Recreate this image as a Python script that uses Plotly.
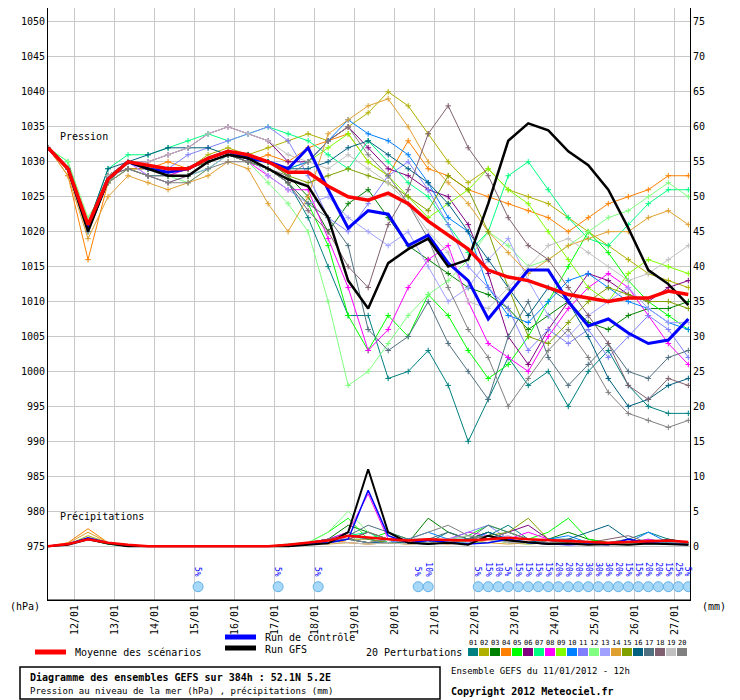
import plotly.graph_objects as go

hours = list(range(0, 385, 12))
tick_hours = [16 + 24 * k for k in range(16)]
tick_labels = ["12/01","13/01","14/01","15/01","16/01","17/01","18/01","19/01","20/01","21/01","22/01","23/01","24/01","25/01","26/01","27/01"]

mean_p = [1032,1029,1021,1027.5,1030,1029.5,1029,1029,1030.5,1031.5,1031,1030,1028.5,1028.5,1026.5,1025,1024.5,1025.5,1024,1021.5,1019.5,1017.5,1014.5,1013.5,1013,1012,1011,1010.5,1010,1010.5,1010.5,1011.5,1011]
ctrl_p = [1032,1029,1020.5,1027.5,1030,1029,1028.5,1029,1030.5,1031.5,1030.5,1030,1029,1032,1026,1020.5,1023,1022.5,1018,1019.5,1015.5,1013,1007.5,1011,1014.5,1014.5,1010,1006.5,1007.5,1005.5,1004,1004.5,1007.5]
gfs_p = [1032,1029,1020,1027.5,1030,1029,1028,1028,1030,1031,1030.5,1029,1027.5,1026.5,1022,1013,1009,1015.5,1017.5,1019,1015,1016,1024,1033,1035.5,1034.5,1031.5,1029.5,1026,1020.5,1014.5,1012.5,1009.5]

pert_colors = ["#008080","#b0b000","#008000","#ff8000","#00ff00","#800080","#00ff80","#ff00ff","#80ff00","#0080ff",
               "#8080ff","#80ff80","#a0a0ff","#e0a030","#80a000","#006080","#507080","#806070","#c0c0c0","#808080"]
pert_p = [
 [1032,1029,1020,1027,1030,1029,1028,1028,1030,1031,1030,1029,1027,1022,1015,1008,1008,999,1000,1003,998,990,996,1002,998,1000,995,1000,1003,998,995,994,994],
 [1032,1029,1021,1028,1030,1029,1028,1029,1031,1032,1031,1032,1033,1034,1033,1035,1037,1040,1038,1034,1030,1027,1029,1026,1025,1024,1022,1020,1018,1016,1014,1013,1012],
 [1032,1029,1021,1027,1029,1029,1028,1028,1030,1031,1031,1030,1028,1025,1020,1024,1026,1022,1018,1016,1014,1012,1011,1009,1006,1008,1010,1007,1006,1008,1009,1009,1010],
 [1032,1028,1016,1027,1029,1029,1030,1029,1030,1031,1030,1031,1030,1032,1033,1034,1030,1028,1033,1029,1028,1026,1025,1024,1023,1022,1020,1022,1024,1025,1026,1028,1028],
 [1032,1029,1021,1028,1030,1029,1028,1028,1029,1031,1030,1029,1027,1024,1018,1008,1003,1008,1005,1011,1008,1003,999,1001,1005,1010,1015,1020,1017,1013,1010,1008,1006],
 [1032,1029,1021,1028,1030,1030,1031,1032,1034,1035,1034,1033,1030,1030,1033,1035,1032,1029,1028,1026,1025,1021,1014,1005,1001,1006,1010,1014,1013,1011,1010,1012,1013],
 [1032,1030,1021,1029,1031,1031,1032,1033,1034,1033,1034,1035,1034,1033,1031,1029,1033,1030,1027,1025,1021,1017,1020,1028,1030,1026,1022,1019,1018,1021,1024,1026,1026],
 [1032,1029,1021,1028,1030,1028,1028,1029,1030,1031,1030,1028,1026,1026,1019,1012,1003,1006,1012,1016,1018,1010,1004,1002,1000,1005,1009,1012,1014,1012,1008,1004,1001],
 [1032,1029,1021,1028,1030,1029,1028,1028,1030,1031,1031,1030,1029,1030,1032,1034,1030,1028,1025,1022,1024,1026,1029,1026,1024,1020,1016,1012,1010,1014,1016,1015,1014],
 [1032,1029,1021,1028,1030,1029,1029,1029,1030,1031,1031,1030,1029,1030,1033,1036,1034,1033,1031,1027,1022,1020,1012,1008,1007,1010,1013,1014,1012,1010,1009,1007,1006],
 [1032,1029,1021,1028,1030,1029,1029,1031,1032,1033,1034,1035,1033,1028,1022,1020,1024,1028,1030,1026,1021,1015,1012,1009,1003,1006,1004,1006,1002,1005,1008,1006,1002],
 [1032,1030,1022,1027,1029,1028,1028,1027,1029,1031,1030,1027,1024,1020,1010,998,1000,1004,1008,1011,1013,1016,1020,1018,1015,1016,1018,1020,1022,1023,1025,1027,1025],
 [1032,1029,1021,1028,1030,1028,1027,1028,1029,1031,1031,1028,1026,1024,1025,1022,1020,1018,1020,1015,1010,1012,1016,1019,1013,1008,1005,1008,1010,1012,1009,1007,1007],
 [1032,1028,1019,1025,1028,1027,1026,1027,1028,1030,1029,1024,1020,1025,1034,1036,1038,1039,1035,1030,1027,1024,1020,1017,1014,1016,1018,1019,1020,1020,1022,1023,1021],
 [1032,1029,1021,1028,1030,1029,1029,1029,1030,1031,1031,1030,1028,1027,1028,1029,1028,1027,1025,1023,1028,1026,1020,1012,1005,1004,1007,1010,1012,1011,1010,1010,1009],
 [1032,1029,1021,1029,1030,1031,1032,1032,1032,1031,1031,1030,1029,1029,1030,1032,1033,1031,1029,1027,1024,1020,1016,1012,1008,1012,1010,1005,999,995,996,998,999],
 [1032,1029,1021,1028,1029,1028,1028,1028,1030,1031,1030,1029,1027,1024,1022,1018,1006,1003,1005,1010,1004,1000,996,1005,1010,1002,998,1001,1004,1000,999,1002,1003],
 [1032,1029,1021,1028,1029,1028,1027,1028,1030,1031,1030,1029,1027,1023,1020,1015,1012,1021,1026,1034,1038,1032,1028,1022,1018,1016,1012,1008,1004,998,996,999,998],
 [1032,1029,1021,1028,1030,1030,1031,1032,1034,1035,1034,1033,1031,1030,1029,1031,1029,1027,1024,1020,1017,1010,1009,1012,1015,1018,1019,1017,1015,1013,1014,1016,1018],
 [1032,1029,1020,1027,1029,1028,1027,1027,1029,1030,1030,1029,1028,1030,1033,1035,1031,1028,1024,1019,1012,1006,1002,995,999,1003,1006,1002,997,994,993,992,993],
]

mean_mm = [0,0.3,1,0.5,0.2,0,0,0,0,0,0,0,0.2,0.5,0.8,1.5,1.2,1,0.8,1,0.9,0.8,1,1.2,1,0.9,0.8,0.6,0.5,0.6,0.7,0.8,0.6]
ctrl_mm = [0,0.3,1.2,0.5,0,0,0,0,0,0,0,0,0,0.3,0.5,1,8,1.5,0.5,0.8,0.5,0.3,0.5,1,0.5,0.3,0.2,0.3,0.2,1,0.5,0.3,0.2]
gfs_mm = [0,0.2,1,0.4,0,0,0,0,0,0,0,0,0,0.2,0.4,2,11,2,0.5,0.3,0.5,0.2,1.5,0.8,0.5,0.3,0.4,0.2,0.3,0.2,0.4,0.3,0.2]
pert_mm = [
 [0,0.3,1,0.5,0,0,0,0,0,0,0,0,0,0.5,1,2,1,0.5,1,0.5,2,1,1.5,3,1,0.5,1,0.5,0.3,1,2,1,0.5],
 [0,0.2,1.5,0.5,0,0,0,0,0,0,0,0,0.2,0.5,0.5,1,0.5,1,0.5,0.3,0.5,1,2,1,0.5,1,0.5,0.3,0.5,0.3,0.5,0.3,0.2],
 [0,0.3,1,0.3,0,0,0,0,0,0,0,0,0,0.3,1,3,2,1,0.5,4,2,1,2,1,0.5,1,2,1,0.5,0.3,0.5,1,0.5],
 [0,0.5,2.5,0.5,0.2,0,0,0,0,0,0,0,0.3,0.5,1,0.5,0.3,0.5,0.3,0.5,0.3,0.5,1,0.5,0.3,0.5,0.3,0.5,0.3,0.5,0.3,0.5,0.3],
 [0,0.3,1,0.5,0,0,0,0,0,0,0,0,0,0.5,2,4,1,2,1,0.5,1,1.5,3,2,1,2,4,1,0.5,0.5,1,0.5,0.3],
 [0,0.3,1,0.5,0,0,0,0,0,0,0,0,0.2,0.3,0.5,1,2,1,0.5,0.5,1,0.5,1,2,3,1,0.5,0.3,0.5,0.3,0.5,0.3,0.5],
 [0,0.3,1,0.3,0,0,0,0,0,0,0,0,0.2,0.5,1,1.5,2,0.5,0.5,0.3,0.5,0.5,1,0.5,0.5,0.3,0.5,0.3,0.5,0.5,0.3,0.3,0.5],
 [0,0.3,1,0.5,0,0,0,0,0,0,0,0,0.2,0.5,1,2,7.5,1,1,0.5,1,2,1.5,1,2,1,0.5,0.5,0.3,0.5,1,0.5,0.3],
 [0,0.3,1,0.5,0,0,0,0,0,0,0,0,0,0.3,0.5,1,0.5,1,0.5,0.5,1,0.5,0.5,1,0.5,1,0.5,0.3,0.5,0.3,0.5,0.3,0.2],
 [0,0.3,1,0.5,0,0,0,0,0,0,0,0,0,0.3,0.5,1.5,1,0.5,1,2,1,0.5,2,1,0.5,1,1.5,0.5,0.3,0.5,2,0.5,0.3],
 [0,0.3,1,0.5,0,0,0,0,0,0,0,0,0.3,0.5,1,1,0.5,0.5,1,0.5,1,2,3,1,0.5,0.5,1,0.5,0.5,0.3,0.5,0.3,0.5],
 [0,0.3,1,0.5,0,0,0,0,0,0,0,0,0.3,0.5,2,5,2,1,0.5,0.5,1,0.5,1,0.5,0.3,0.5,0.3,0.5,0.3,0.5,0.3,0.5,0.3],
 [0,0.3,1,0.5,0,0,0,0,0,0,0,0,0.2,0.5,0.5,1,0.5,1,0.5,0.5,0.3,0.5,1,1.5,0.5,1,0.5,0.3,0.5,0.3,0.3,0.5,0.3],
 [0,0.4,2,0.5,0.2,0,0,0,0,0,0,0,0.2,0.5,0.3,0.5,0.3,0.5,0.3,0.5,0.3,1,0.5,0.3,0.5,0.3,0.5,0.3,0.5,0.3,0.5,0.3,0.2],
 [0,0.3,1,0.5,0,0,0,0,0,0,0,0,0,0.3,0.5,1,1,0.5,0.5,1,0.5,1,1.5,2,4,1,0.5,0.5,0.5,0.3,0.5,0.3,0.5],
 [0,0.3,1,0.5,0,0,0,0,0,0,0,0,0,0.3,0.5,1,0.5,0.5,0.5,0.5,1,1,2,1,0.5,1,1,2,3,1,0.5,1,0.5],
 [0,0.3,1,0.5,0,0,0,0,0,0,0,0,0.2,0.5,1,1.5,3,2,1,1,2,1,3,2,1,0.5,1,0.5,0.5,1,0.5,0.5,0.3],
 [0,0.3,1,0.5,0,0,0,0,0,0,0,0,0.2,0.5,1,1,2,1,0.5,0.3,0.5,1,1.5,0.5,0.5,0.3,0.5,0.5,1,1.5,0.5,0.3,0.5],
 [0,0.3,1,0.5,0,0,0,0,0,0,0,0,0,0.3,0.5,0.5,0.3,0.5,0.3,0.5,1,1.5,1,0.5,0.5,0.3,0.5,0.3,0.5,0.3,0.5,0.3,0.2],
 [0,0.3,1,0.5,0,0,0,0,0,0,0,0,0,0.3,0.5,1,0.5,1,1,2,3,1.5,1,2,1,0.5,0.5,0.3,0.5,1,0.5,0.3,0.5],
]

snow_hours = [90, 138, 162, 222, 228] + [258 + 6 * k for k in range(22)]
snow_pct = ["5%", "5%", "5%", "5%", "10%", "5%", "15%", "10%", "5%", "15%", "15%", "15%", "15%", "20%", "20%", "20%",
            "30%", "30%", "30%", "20%", "15%", "15%", "20%", "20%", "15%", "25%", "5%"]

BASE = 975
FONT = "DejaVu Sans Mono"
fig = go.Figure()

for i in range(20):
    fig.add_trace(go.Scatter(x=hours, y=[BASE + v for v in pert_mm[i]], mode="lines",
                             line=dict(color=pert_colors[i], width=1), showlegend=False))
for i in range(20):
    fig.add_trace(go.Scatter(x=hours, y=pert_p[i], mode="lines+markers",
                             line=dict(color=pert_colors[i], width=1),
                             marker=dict(symbol="cross-thin", size=4, line=dict(color=pert_colors[i], width=1)),
                             showlegend=False))
for vals, col, w in [(ctrl_mm, "#0000ff", 1.5), (gfs_mm, "#000000", 2), (mean_mm, "#ff0000", 2.5)]:
    fig.add_trace(go.Scatter(x=hours, y=[BASE + v for v in vals], mode="lines",
                             line=dict(color=col, width=w), showlegend=False))
for vals, col, w in [(ctrl_p, "#0000ff", 3), (gfs_p, "#000000", 2.5), (mean_p, "#ff0000", 3.5)]:
    fig.add_trace(go.Scatter(x=hours, y=vals, mode="lines", line=dict(color=col, width=w), showlegend=False))

fig.add_trace(go.Scatter(x=snow_hours, y=[969.2] * len(snow_hours), mode="markers",
                         marker=dict(symbol="circle", size=10, color="#a8d8f8", line=dict(color="#60b0e8", width=1)),
                         showlegend=False))
for h, t in zip(snow_hours, snow_pct):
    fig.add_annotation(x=h, y=970.3, text=t, textangle=90, showarrow=False, yanchor="bottom",
                       font=dict(family=FONT, size=8, color="#0000ff"))

fig.add_trace(go.Scatter(x=[0], y=[0], yaxis="y2", mode="markers", marker=dict(opacity=0), showlegend=False))

ymin, ymax = 967.3, 1052.0
fig.update_layout(
    width=732, height=692, margin=dict(l=40, r=50, t=0, b=100, autoexpand=False),
    paper_bgcolor="white", plot_bgcolor="white",
    font=dict(family=FONT, size=10, color="black"),
    xaxis=dict(range=[0, 385], tickvals=tick_hours, ticktext=tick_labels, tickangle=-90, automargin=False,
               showgrid=True, gridcolor="#c8c8c8", zeroline=False, showline=True, linecolor="black", ticks=""),
    yaxis=dict(range=[ymin, ymax], tickvals=list(range(975, 1051, 5)), showgrid=True, automargin=False,
               gridcolor="#c8c8c8", zeroline=False, showline=True, linecolor="black", ticks=""),
    yaxis2=dict(range=[ymin - BASE, ymax - BASE], tickvals=list(range(0, 76, 5)), overlaying="y", automargin=False,
                side="right", showgrid=False, zeroline=False, showline=True, linecolor="black", ticks=""),
)

# page pixel coordinates -> paper coordinates (page has 8px body margin)
def px(x):
    return (x - 48) / 642
def py(y):
    return (600 - y) / 592

def text(x, y, t, size=10, anchor="left", bold=False):
    fig.add_annotation(xref="paper", yref="paper", x=px(x), y=py(y), text=("<b>%s</b>" % t) if bold else t,
                       showarrow=False, xanchor=anchor, yanchor="middle", font=dict(family=FONT, size=size))

text(58, 136, "Pression")
text(58, 516, "Précipitations")
fig.add_shape(type="line", xref="paper", yref="paper", x0=0, x1=1, y0=0, y1=0, line=dict(color="black", width=1))
text(8, 606, "(hPa)")
text(700, 606, "(mm)")

fig.add_shape(type="line", xref="paper", yref="paper", x0=px(35), x1=px(66), y0=py(652), y1=py(652), line=dict(color="red", width=5))
text(73, 652, "Moyenne des scénarios")
fig.add_shape(type="line", xref="paper", yref="paper", x0=px(225), x1=px(256), y0=py(637), y1=py(637), line=dict(color="blue", width=5))
text(263, 637, "Run de contrôle")
fig.add_shape(type="line", xref="paper", yref="paper", x0=px(225), x1=px(256), y0=py(648), y1=py(648), line=dict(color="black", width=5))
text(263, 649, "Run GFS")
text(464, 652, "20 Perturbations", anchor="right")
for i in range(20):
    x0 = 468 + i * 11
    fig.add_shape(type="rect", xref="paper", yref="paper", x0=px(x0), x1=px(x0 + 10), y0=py(656), y1=py(648),
                  fillcolor=pert_colors[i], line=dict(width=0))
    text(x0 + 5, 643, "%02d" % (i + 1), size=7, anchor="center")

fig.add_shape(type="rect", xref="paper", yref="paper", x0=px(20), x1=px(440), y0=py(667), y1=py(699),
              line=dict(color="black", width=1.5))
text(28, 677, "Diagramme des ensembles GEFS sur 384h : 52.1N 5.2E", bold=True)
text(28, 691, "Pression au niveau de la mer (hPa) , précipitations (mm)", size=9)
text(449, 671, "Ensemble GEFS du 11/01/2012 - 12h", size=9)
text(449, 691, "Copyright 2012 Meteociel.fr", bold=True)

fig.write_html("out.html")
